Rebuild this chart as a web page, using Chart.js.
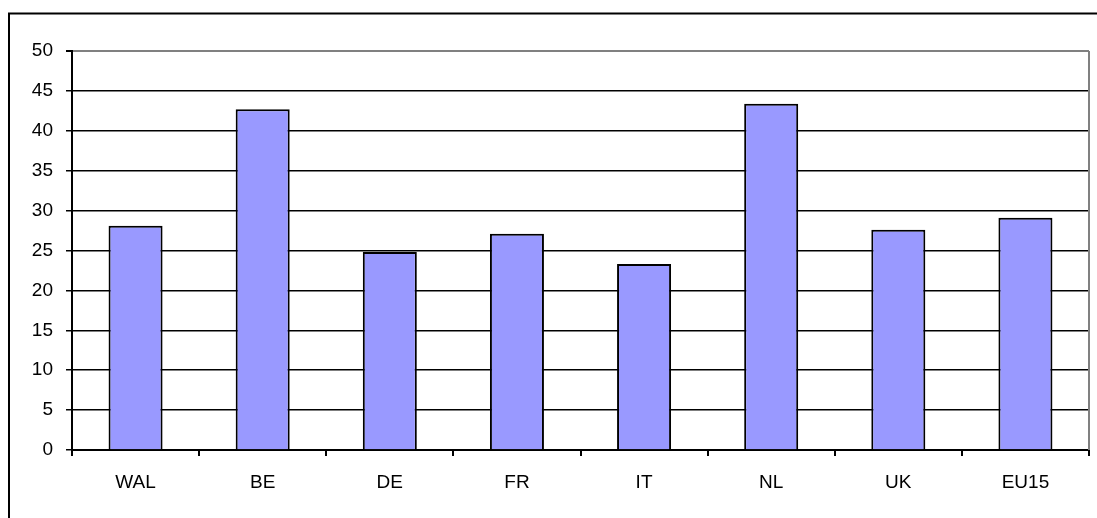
<!DOCTYPE html>
<html>
<head>
<meta charset="utf-8">
<script src="https://cdn.jsdelivr.net/npm/chart.js@4"></script>
<style>
  html, body { margin: 0; padding: 0; background: #fff; }
  #wrap { width: 1097px; height: 518px; position: relative; }
</style>
</head>
<body>
<div id="wrap"><canvas id="grafico"></canvas></div>
<script>
const paises = ["WAL", "BE", "DE", "FR", "IT", "NL", "UK", "EU15"];
const valores = [28.1, 42.7, 24.8, 27.1, 23.3, 43.4, 27.6, 29.1];
const ticksY = [0, 5, 10, 15, 20, 25, 30, 35, 40, 45, 50];

// moldura externa e borda direita cinza da área do gráfico
const moldura = {
  id: "moldura",
  afterDraw(chart) {
    const ctx = chart.ctx;
    const area = chart.chartArea;
    ctx.save();
    ctx.strokeStyle = "#000";
    ctx.lineWidth = 2;
    ctx.strokeRect(9, 13.5, 1200, 700);
    ctx.strokeStyle = "#808080";
    ctx.lineWidth = 2;
    ctx.beginPath();
    ctx.moveTo(area.right, area.top);
    ctx.lineTo(area.right, area.bottom);
    ctx.stroke();
    ctx.restore();
  },
};

const fonte = { family: "'Liberation Sans', Arial, sans-serif", size: 19 };

new Chart(document.getElementById("grafico"), {
  type: "bar",
  data: {
    labels: paises,
    datasets: [
      {
        data: valores,
        backgroundColor: "#9999FF",
        borderColor: "#000",
        borderWidth: 2,
        categoryPercentage: 1,
        barPercentage: 0.425,
      },
    ],
  },
  options: {
    responsive: true,
    maintainAspectRatio: false,
    animation: false,
    layout: { padding: { top: 51, right: 8, left: 0, bottom: 0 } },
    plugins: {
      legend: { display: false },
      tooltip: { enabled: false },
    },
    scales: {
      x: {
        afterFit: (s) => { s.height = 68; },
        grid: {
          offset: true,
          drawOnChartArea: false,
          tickLength: 6,
          tickColor: "#000",
          lineWidth: 2,
        },
        border: { color: "#000", width: 2 },
        ticks: { padding: 15, color: "#000", font: fonte },
      },
      y: {
        min: 0,
        max: 50,
        afterFit: (s) => { s.width = 72; },
        afterBuildTicks: (s) => { s.ticks = ticksY.map((v) => ({ value: v })); },
        grid: {
          color: (c) => (c.tick && c.tick.value === 50 ? "#808080" : "#000"),
          tickColor: "#000",
          lineWidth: (c) => (c.tick && c.tick.value === 50 ? 2 : 1.5),
          tickLength: 6,
        },
        border: { color: "#000", width: 2 },
        ticks: { padding: 13, color: "#000", font: fonte },
      },
    },
  },
  plugins: [moldura],
});
</script>
</body>
</html>
